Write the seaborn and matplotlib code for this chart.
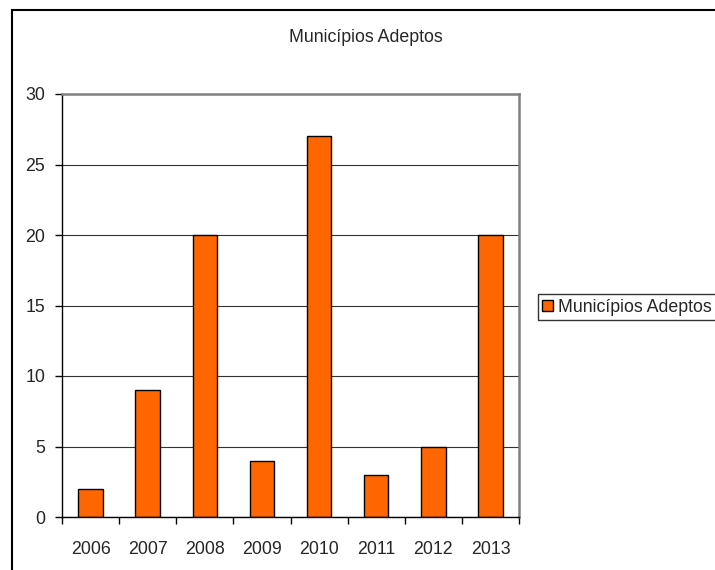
import numpy as np
import pandas as pd
import seaborn as sns
import matplotlib.pyplot as plt
from matplotlib.patches import Patch, Rectangle

# data
anos = ['2006', '2007', '2008', '2009', '2010', '2011', '2012', '2013']
adeptos = [2, 9, 20, 4, 27, 3, 5, 20]
serie = 'Municípios Adeptos'

df = pd.DataFrame({'Ano': anos, 'Municipios': adeptos})

sns.set_style('white')
plt.rcParams['font.family'] = ['Liberation Sans', 'DejaVu Sans']

fig = plt.figure(figsize=(7.15, 5.7), dpi=100)
ax = fig.add_axes([62 / 715, 1 - 517 / 570, (519 - 62) / 715, (517 - 94) / 570])

sns.barplot(data=df, x='Ano', y='Municipios', color='#FF6600', saturation=1,
            edgecolor='black', linewidth=1, width=0.43, ax=ax)

ax.set_xlim(-0.5, len(anos) - 0.5)
ax.set_ylim(0, 30)
ax.set_yticks(range(0, 31, 5))
ax.set_xlabel('')
ax.set_ylabel('')
ax.yaxis.grid(True, color='#333333', linewidth=0.8)
ax.set_axisbelow(True)

ax.set_xticks(np.arange(-0.5, len(anos)), minor=True)
ax.tick_params(axis='x', which='major', length=0, pad=17, labelsize=12.8)
ax.tick_params(axis='x', which='minor', length=5, width=1, color='black', direction='out', bottom=True)
ax.tick_params(axis='y', length=5, width=1, color='black', direction='out', left=True, labelsize=12.8, pad=7)

for s in ['left', 'bottom']:
    ax.spines[s].set_color('black')
    ax.spines[s].set_linewidth(1)
for s in ['top', 'right']:
    ax.spines[s].set_color('#808080')
    ax.spines[s].set_linewidth(1.8)

fig.text(366 / 715, 1 - 37 / 570, serie, ha='center', va='center', fontsize=12.8)

handle = Patch(facecolor='#FF6600', edgecolor='black', linewidth=1)
leg = fig.legend([handle], [serie], loc='center left', bbox_to_anchor=(538 / 715, 1 - 307 / 570),
                 fontsize=12.8, frameon=True, fancybox=False, shadow=False,
                 handlelength=0.6, handleheight=0.6, handletextpad=0.3, borderpad=0.25,
                 borderaxespad=0)
leg.get_frame().set_edgecolor('black')
leg.get_frame().set_linewidth(1)

# outer chart border
fig.patches.append(Rectangle((12 / 715, -0.1), 1.0, 1 - 10 / 570 + 0.1, transform=fig.transFigure,
                             fill=False, edgecolor='black', linewidth=1.5))

fig.savefig('out.png', dpi=100)
